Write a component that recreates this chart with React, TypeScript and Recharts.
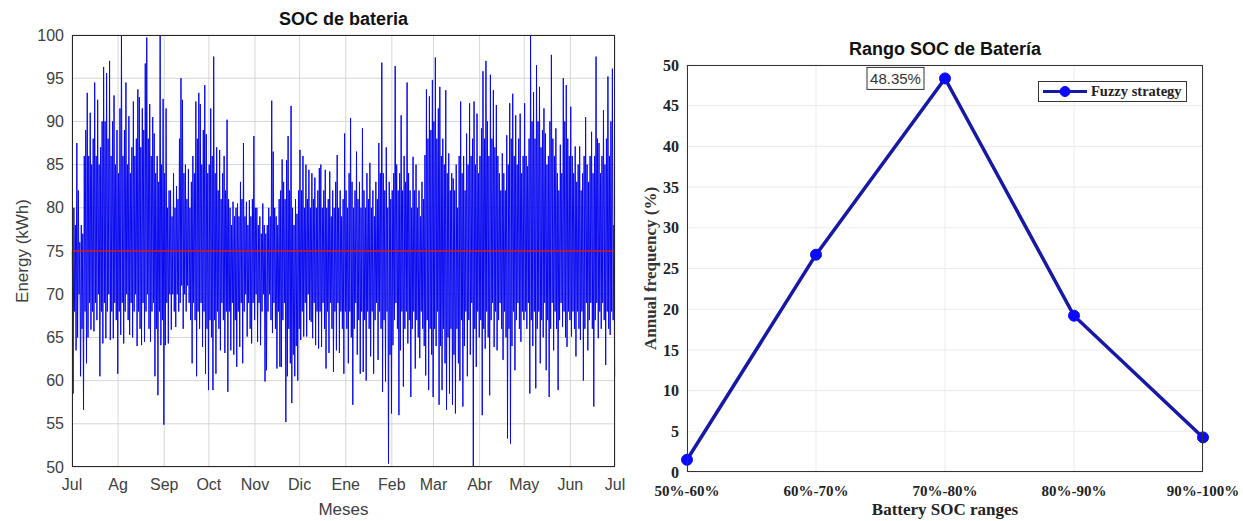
import React from "react";
import { LineChart, Line, XAxis, YAxis, CartesianGrid, ReferenceLine } from "recharts";

// ---- left panel: battery energy over one year (daily max / min, kWh) ----
const MONTHS = ["Jul", "Ag", "Sep", "Oct", "Nov", "Dic", "Ene", "Feb", "Mar", "Abr", "May", "Jun", "Jul"];
const MONTH_START_DAY = [0, 31, 62, 92, 123, 153, 184, 215, 243, 274, 304, 335, 365];
const ENERGY_TICKS = [50, 55, 60, 65, 70, 75, 80, 85, 90, 95, 100];
const SOC_SETPOINT = 75;

const highJul = [75, 80, 78, 87.5, 82, 76, 78, 77, 86, 89, 93.3, 86, 91, 85, 88, 94.5, 86, 92.5, 85, 87, 90, 96.3, 90, 95.6, 88, 97, 86, 90, 93, 85, 89];
const lowJul = [58.5, 68, 63.5, 65, 70, 60.5, 66, 56.6, 68, 62, 65, 69, 65.9, 68, 65.7, 69, 67, 70, 60.5, 68, 64.3, 69, 64.9, 68, 70, 64.7, 68, 64.9, 69, 67, 60.8];
const highAg = [84, 91.5, 100, 86, 89, 94.5, 85, 90.6, 84, 87, 92.3, 86, 88, 93.7, 92.8, 87, 91.5, 89, 96.7, 99.7, 88, 92, 86, 90.5, 88.6, 84, 86, 83, 100, 85, 92.6];
const lowAg = [68, 65.3, 69, 64.3, 68, 70, 67, 65.3, 69, 65, 68, 70, 64, 68, 66, 64.1, 69, 64.5, 68, 70, 66, 64.5, 68, 69, 60.5, 66, 58.3, 68, 64.1, 67, 54.9];
const highSep = [84, 91.5, 80, 82, 82, 79, 84, 80, 82.5, 81, 88, 95, 92.5, 84, 85, 81, 84.5, 80, 83, 86, 84, 92.3, 88, 93.3, 92, 85, 89, 94.2, 88.5, 84];
const lowSep = [64.1, 69, 64.3, 70, 65.9, 70, 68, 66.2, 70, 68, 69, 71, 66, 70, 68, 71, 69, 67, 62, 69, 67, 60.5, 68, 66, 69, 63.9, 68, 60.8, 66, 58.9];
const highOct = [85, 91.5, 86, 97.5, 84, 87, 82, 86.7, 81, 84, 86, 82, 90.2, 81, 80, 78, 80.7, 79, 80, 80.5, 79, 83, 81, 87.5, 79, 80.7, 78, 80.9, 79, 81, 88.3];
const lowOct = [67, 65, 58.9, 67, 60.8, 68, 66, 63.5, 69, 67, 63.2, 68, 58.7, 68, 63.5, 69, 63, 67, 61.6, 68, 63.9, 69, 62, 68, 70, 65.1, 69, 66, 64.3, 69, 67];
const highNov = [80, 80, 78, 79, 77, 80.5, 78, 77, 78, 80, 79, 92.4, 86.5, 80, 79, 78, 81, 82, 85.6, 83, 81, 85.5, 88.3, 82, 91.8, 80, 78, 81, 79.3, 82];
const lowNov = [70, 64.5, 69, 64.1, 68, 70, 59.9, 61.2, 68, 70, 67, 65.5, 69, 66, 61.4, 68, 61.6, 61.6, 67, 69, 55.2, 60.5, 66, 62, 57.4, 63, 60.5, 64, 60, 66];
const highDic = [86.7, 82, 86, 80, 85, 81, 84.4, 80, 84, 81, 83.5, 80, 82, 84.6, 85, 80, 82, 84.4, 80, 81, 84.2, 79, 82, 80, 83, 86.1, 80, 82, 79, 81, 88.6];
const lowDic = [64.7, 68, 65.1, 69, 65.1, 70, 67, 66.8, 64.9, 69, 64.1, 68, 63.7, 68, 63.9, 69, 66, 61.4, 68, 63.2, 69, 66, 61, 68, 63.5, 69, 63.2, 68, 66, 60.8, 68];
const highEne = [82, 80, 84, 90.4, 83, 80, 82, 86.5, 81, 83, 80, 89.2, 82, 80, 84, 81, 85.2, 80, 82, 79, 83, 81, 87.5, 84, 96.8, 84, 82, 87, 80, 83, 81];
const lowEne = [66, 62, 68, 65, 57.2, 66, 69, 63, 67, 60.8, 68, 61, 67, 60, 68, 66, 62.8, 68, 60.8, 67, 69, 62.4, 68, 66, 58.7, 67, 59.9, 68, 50.4, 63, 56.2];
const highFeb = [82, 84, 96.4, 85, 82, 84, 90.7, 82, 86, 83, 94.5, 84, 82, 80, 85.9, 82, 85, 80, 82, 79, 83, 81, 86.1, 93.7, 88, 92.9, 89, 94.8];
const lowFeb = [64.1, 67, 69, 66, 56, 63.5, 68, 59.3, 66, 68, 64.3, 67, 58.1, 66, 68, 61.4, 67, 65, 62.6, 68, 66, 64, 60.6, 67, 58.9, 66, 63, 58.1];
const highMar = [90, 97.4, 88, 91.5, 94, 86, 88, 85, 93.6, 84, 86.3, 82, 84, 83.4, 82, 85, 80, 86, 92.3, 84, 86, 82, 88.6, 85, 92.1, 86, 88, 92.3, 85, 90.9, 84];
const lowMar = [66, 64, 68, 57.2, 64, 58.9, 66, 62, 56.6, 65, 58.5, 66, 57.2, 63, 56.2, 66, 62, 60, 67, 57, 64, 68, 60.5, 67, 63, 69, 50, 66, 61.6, 68, 65];
const highAbr = [86, 89.2, 95.8, 88, 97, 90, 86, 95.4, 88, 93.6, 87, 91.9, 86, 84, 82, 86.3, 84, 82, 88.4, 85, 92.1, 88, 93.2, 86, 90.7, 85, 88, 90.9, 84, 86];
const lowAbr = [67, 56, 66, 63.7, 68, 65, 58.3, 67, 69, 63.9, 68, 63.5, 67, 69, 66, 62.4, 68, 65, 53.3, 66, 52.7, 64, 68, 61.2, 67, 69, 66, 64.5, 68, 67];
const highMay = [92.1, 86, 84.8, 88, 100, 90, 93.4, 88, 96.5, 90, 94, 87, 89, 91.5, 88.6, 85, 86, 90, 97.7, 88, 86, 89.2, 84, 82, 87.3, 84, 95, 90, 94.2, 88, 86];
const lowMay = [68, 66, 69, 58.5, 67, 64, 68, 59.1, 66, 68, 62, 67, 65, 69, 61.2, 67, 58.1, 66, 69, 63.5, 68, 66, 58.9, 67, 69, 66.2, 68, 65, 63.9, 68, 67];
const highJun = [91.7, 86, 84, 87.1, 83, 85, 87.1, 82, 84, 86, 90.5, 85, 83, 86, 88.8, 84, 86, 97.5, 88, 87.5, 84, 86, 91.3, 85, 88, 95.2, 86, 90, 96.1, 78];
const lowJun = [65.1, 68, 66, 62.8, 68, 66, 64.7, 68, 60, 66, 69, 63.5, 67, 69, 66, 57, 67, 69, 64.9, 68, 66, 69, 67, 61.8, 68, 66, 65.3, 68, 67, 60.5];

// ---- right panel: annual frequency per SOC range ----
const SOC_RANGES = ["50%-60%", "60%-70%", "70%-80%", "80%-90%", "90%-100%"];
const FUZZY_FREQ = [1.5, 26.7, 48.35, 19.2, 4.25];
const FREQ_TICKS = [0, 5, 10, 15, 20, 25, 30, 35, 40, 45, 50];

const socHigh = [...highJul, ...highAg, ...highSep, ...highOct, ...highNov, ...highDic, ...highEne, ...highFeb, ...highMar, ...highAbr, ...highMay, ...highJun];
const socLow = [...lowJul, ...lowAg, ...lowSep, ...lowOct, ...lowNov, ...lowDic, ...lowEne, ...lowFeb, ...lowMar, ...lowAbr, ...lowMay, ...lowJun];

// one up/down swing per day
const socSeries = socHigh.flatMap((hi, d) => [
  { day: d + 0.25, kwh: hi },
  { day: d + 0.75, kwh: socLow[d] },
]);

const freqData = SOC_RANGES.map((range, i) => ({ range, freq: FUZZY_FREQ[i] }));
const peakIndex = FUZZY_FREQ.indexOf(Math.max(...FUZZY_FREQ));

const SANS = '"Liberation Sans", Arial, Helvetica, sans-serif';
const SERIF = '"Liberation Serif", "Times New Roman", serif';
const LINE_BLUE = "#1818a8";
const DOT_BLUE = "#0a0aff";

function FuzzyDot(props: any) {
  const { cx, cy, index } = props;
  if (cx == null || cy == null) return <g key={`dot-${index}`} />;
  return (
    <g key={`dot-${index}`}>
      <circle cx={cx} cy={cy} r={5.5} fill={DOT_BLUE} stroke={DOT_BLUE} strokeWidth={1} />
      {index === peakIndex && (
        <g>
          <rect x={cx - 78} y={cy - 11} width={57} height={22} fill="#fff" stroke="#333" strokeWidth={1} />
          <text x={cx - 49.5} y={cy + 5.5} textAnchor="middle" fontFamily={SANS} fontSize={15} fill="#333">
            {`${FUZZY_FREQ[peakIndex]}%`}
          </text>
        </g>
      )}
    </g>
  );
}

export default function App() {
  return (
    <div style={{ position: "absolute", left: 0, top: 0, width: 1243, height: 521, background: "#fff" }}>
      {/* SOC de bateria */}
      <div style={{ position: "absolute", left: 0, top: 0, width: 640, height: 521 }}>
        <div
          style={{
            position: "absolute", left: 72, top: 9, width: 543, textAlign: "center",
            fontFamily: SANS, fontWeight: "bold", fontSize: 18, color: "#111",
          }}
        >
          SOC de bateria
        </div>
        <LineChart width={640} height={521} data={socSeries} margin={{ top: 35, right: 25, bottom: 0, left: 0 }}>
          <CartesianGrid stroke="#d6d6d6" />
          <XAxis
            type="number"
            dataKey="day"
            domain={[0, 365]}
            ticks={MONTH_START_DAY}
            interval={0}
            tickFormatter={(v: number) => MONTHS[MONTH_START_DAY.indexOf(v)]}
            height={54}
            tickSize={0}
            tickMargin={12}
            axisLine={false}
            tick={{ fill: "#404040", fontSize: 16, fontFamily: SANS }}
            label={{ value: "Meses", position: "insideBottom", offset: 6, fill: "#404040", fontSize: 17, fontFamily: SANS }}
          />
          <YAxis
            type="number"
            domain={[50, 100]}
            ticks={ENERGY_TICKS}
            interval={0}
            width={72}
            tickSize={0}
            tickMargin={8}
            axisLine={false}
            tick={{ fill: "#404040", fontSize: 16, fontFamily: SANS }}
            label={{
              value: "Energy (kWh)", angle: -90, position: "insideLeft", offset: 22,
              fill: "#404040", fontSize: 17, fontFamily: SANS, style: { textAnchor: "middle" },
            }}
          />
          <Line type="linear" dataKey="kwh" stroke="#0808f0" strokeWidth={1} dot={false} activeDot={false} isAnimationActive={false} />
          <ReferenceLine y={SOC_SETPOINT} stroke="#d81818" strokeWidth={1.3} />
        </LineChart>
        <div
          style={{
            position: "absolute", left: 72, top: 35, width: 543, height: 432,
            border: "1px solid #262626", boxSizing: "border-box", pointerEvents: "none",
          }}
        />
      </div>

      {/* Rango SOC de Batería */}
      <div style={{ position: "absolute", left: 620, top: 0, width: 623, height: 521 }}>
        <div
          style={{
            position: "absolute", left: 67, top: 39, width: 516, textAlign: "center",
            fontFamily: SANS, fontWeight: "bold", fontSize: 18, color: "#111",
          }}
        >
          Rango SOC de Batería
        </div>
        <LineChart width={623} height={521} data={freqData} margin={{ top: 65, right: 40, bottom: 0, left: 0 }}>
          <CartesianGrid stroke="#ebebeb" />
          <XAxis
            dataKey="range"
            interval={0}
            padding={{ left: 0, right: 0 }}
            height={49}
            tickSize={0}
            tickMargin={13}
            axisLine={false}
            tick={{ fill: "#222", fontSize: 15, fontFamily: SERIF, fontWeight: "bold" }}
            label={{
              value: "Battery SOC ranges", position: "insideBottom", offset: 6,
              fill: "#222", fontSize: 17, fontFamily: SERIF, fontWeight: "bold",
            }}
          />
          <YAxis
            type="number"
            domain={[0, 50]}
            ticks={FREQ_TICKS}
            interval={0}
            width={67}
            tickSize={0}
            tickMargin={8}
            axisLine={false}
            tick={{ fill: "#222", fontSize: 16, fontFamily: SERIF, fontWeight: "bold" }}
            label={{
              value: "Annual frequency (%)", angle: -90, position: "insideLeft", offset: 30,
              fill: "#333", fontSize: 17, fontFamily: SERIF, fontWeight: "bold", style: { textAnchor: "middle" },
            }}
          />
          <Line
            type="linear"
            dataKey="freq"
            stroke={LINE_BLUE}
            strokeWidth={3.5}
            dot={FuzzyDot}
            activeDot={false}
            isAnimationActive={false}
          />
        </LineChart>
        <div
          style={{
            position: "absolute", left: 67, top: 65, width: 516, height: 407,
            border: "1px solid #333", boxSizing: "border-box", pointerEvents: "none",
          }}
        />
        <div
          style={{
            position: "absolute", left: 418, top: 81, width: 149, height: 21,
            border: "1px solid #333", boxSizing: "border-box", background: "#fff",
            display: "flex", alignItems: "center",
          }}
        >
          <svg width={52} height={19} style={{ display: "block" }}>
            <line x1={4} y1={9.5} x2={48} y2={9.5} stroke={LINE_BLUE} strokeWidth={3} />
            <circle cx={26} cy={9.5} r={5} fill={DOT_BLUE} stroke={DOT_BLUE} />
          </svg>
          <span style={{ fontFamily: SERIF, fontWeight: "bold", fontSize: 14.5, color: "#222", whiteSpace: "nowrap" }}>
            Fuzzy strategy
          </span>
        </div>
      </div>
    </div>
  );
}
